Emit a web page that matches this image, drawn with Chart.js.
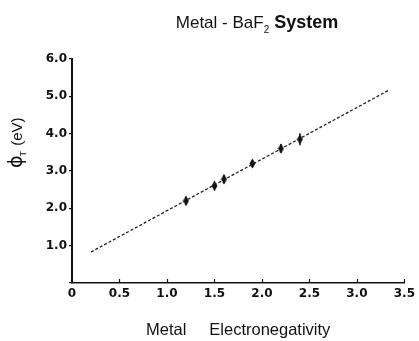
<!DOCTYPE html>
<html><head><meta charset="utf-8">
<script src="https://cdn.jsdelivr.net/npm/chart.js@4"></script>
<style>html,body{margin:0;padding:0;background:#fff}</style>
</head><body>
<canvas id="c" width="419" height="341" style="display:block;width:419px;height:341px"></canvas>
<script>
// ---- data ----
const electronegativity = [1.2, 1.5, 1.6, 1.9, 2.2, 2.4];
const phiT = [2.2, 2.6, 2.78, 3.2, 3.6, 3.85];
const phiErr = [0.12, 0.12, 0.12, 0.1, 0.12, 0.16];
const fitX = [0.2, 3.34];
const fitY = [0.83, 5.17];
const xRange = [0, 3.5];
const yRange = [0, 6];
const titleParts = ["Metal - BaF", "2", " System"];
const xTitle = "Metal     Electronegativity";

// elongated diamond marker
function diamond() {
  const cv = document.createElement('canvas');
  cv.width = 7; cv.height = 11;
  const g = cv.getContext('2d');
  g.fillStyle = '#111';
  g.beginPath();
  g.moveTo(3.5, 0.5); g.lineTo(6.5, 5.5); g.lineTo(3.5, 10.5); g.lineTo(0.5, 5.5);
  g.closePath(); g.fill();
  return cv;
}

const textPlugin = {
  id: 'texts',
  afterDraw(chart) {
    const ctx = chart.ctx;
    const xs = chart.scales.x, ys = chart.scales.y;
    ctx.save();
    ctx.fillStyle = '#111';
    ctx.strokeStyle = '#111';
    // error bars
    ctx.lineWidth = 1.5;
    electronegativity.forEach((x, i) => {
      const px = xs.getPixelForValue(x);
      ctx.beginPath();
      ctx.moveTo(px, ys.getPixelForValue(phiT[i] - phiErr[i]));
      ctx.lineTo(px, ys.getPixelForValue(phiT[i] + phiErr[i]));
      ctx.stroke();
    });
    // inward x ticks
    ctx.lineWidth = 1.2;
    for (let v = xRange[0] + 0.5; v <= xRange[1] + 1e-9; v += 0.5) {
      const px = Math.round(xs.getPixelForValue(v)) + 0.5;
      ctx.beginPath();
      ctx.moveTo(px, xs.top);
      ctx.lineTo(px, xs.top - 4);
      ctx.stroke();
    }
    // title
    ctx.textBaseline = 'alphabetic';
    const f1 = '17px "Liberation Sans", Arial, sans-serif';
    const f2 = '10px "Liberation Sans", Arial, sans-serif';
    const f3 = 'bold 18px "Liberation Sans", Arial, sans-serif';
    ctx.font = f1; const w1 = ctx.measureText(titleParts[0]).width;
    ctx.font = f2; const w2 = ctx.measureText(titleParts[1]).width;
    ctx.font = f3; const w3 = ctx.measureText(titleParts[2]).width;
    let tx = 257 - (w1 + w2 + w3) / 2;
    const ty = 28;
    ctx.font = f1; ctx.fillText(titleParts[0], tx, ty); tx += w1;
    ctx.font = f2; ctx.fillText(titleParts[1], tx, ty + 5); tx += w2;
    ctx.font = f3; ctx.fillText(titleParts[2], tx, ty);
    // y title
    ctx.translate(22, 168);
    ctx.rotate(-Math.PI / 2);
    ctx.font = '19px "DejaVu Sans", sans-serif';
    ctx.fillText('\u03D5', 0, 0);
    let w = ctx.measureText('\u03D5').width;
    ctx.font = '9px "Liberation Sans", Arial, sans-serif';
    ctx.fillText('T', w - 1, 4);
    w += ctx.measureText('T').width;
    ctx.font = '15px "Liberation Sans", Arial, sans-serif';
    ctx.fillText(' (eV)', w, 0);
    ctx.restore();
  }
};

const tickFont = { family: '"DejaVu Sans", sans-serif', size: 12, weight: 'bold' };

new Chart(document.getElementById('c'), {
  type: 'scatter',
  data: {
    datasets: [
      {
        label: 'fit',
        type: 'line',
        data: fitX.map((x, i) => ({ x, y: fitY[i] })),
        borderColor: '#222',
        borderWidth: 1.3,
        borderDash: [3, 2],
        pointRadius: 0,
        fill: false
      },
      {
        label: 'data',
        data: electronegativity.map((x, i) => ({ x, y: phiT[i] })),
        pointStyle: diamond(),
        pointRadius: 4,
        backgroundColor: '#111',
        borderColor: '#111'
      }
    ]
  },
  options: {
    responsive: false,
    animation: false,
    devicePixelRatio: 1,
    layout: { padding: { top: 59, right: 11, left: 0, bottom: 0 } },
    plugins: { legend: { display: false }, tooltip: { enabled: false }, title: { display: false } },
    scales: {
      x: {
        type: 'linear',
        min: xRange[0], max: xRange[1],
        afterFit(s) { s.height = 58; },
        grid: { display: true, drawOnChartArea: false, drawTicks: false },
        border: { display: true, color: '#111', width: 1.5 },
        ticks: {
          stepSize: 0.5, padding: 4, color: '#111', font: tickFont, maxRotation: 0,
          callback: v => v === 0 ? '0' : v.toFixed(1)
        },
        title: {
          display: true, text: xTitle, color: '#111',
          font: { family: '"Liberation Sans", Arial, sans-serif', size: 16.5 },
          padding: { top: 0, bottom: 1 }
        }
      },
      y: {
        type: 'linear',
        min: yRange[0], max: yRange[1],
        afterFit(s) { s.width = 72; },
        grid: { display: true, drawOnChartArea: false, drawTicks: true, tickLength: 3, color: '#111', lineWidth: 1.2 },
        border: { display: true, color: '#111', width: 2 },
        ticks: {
          stepSize: 1, padding: 2, color: '#111', font: tickFont,
          callback: v => v === 0 ? '' : v.toFixed(1)
        }
      }
    }
  },
  plugins: [textPlugin]
});
</script>
</body></html>
